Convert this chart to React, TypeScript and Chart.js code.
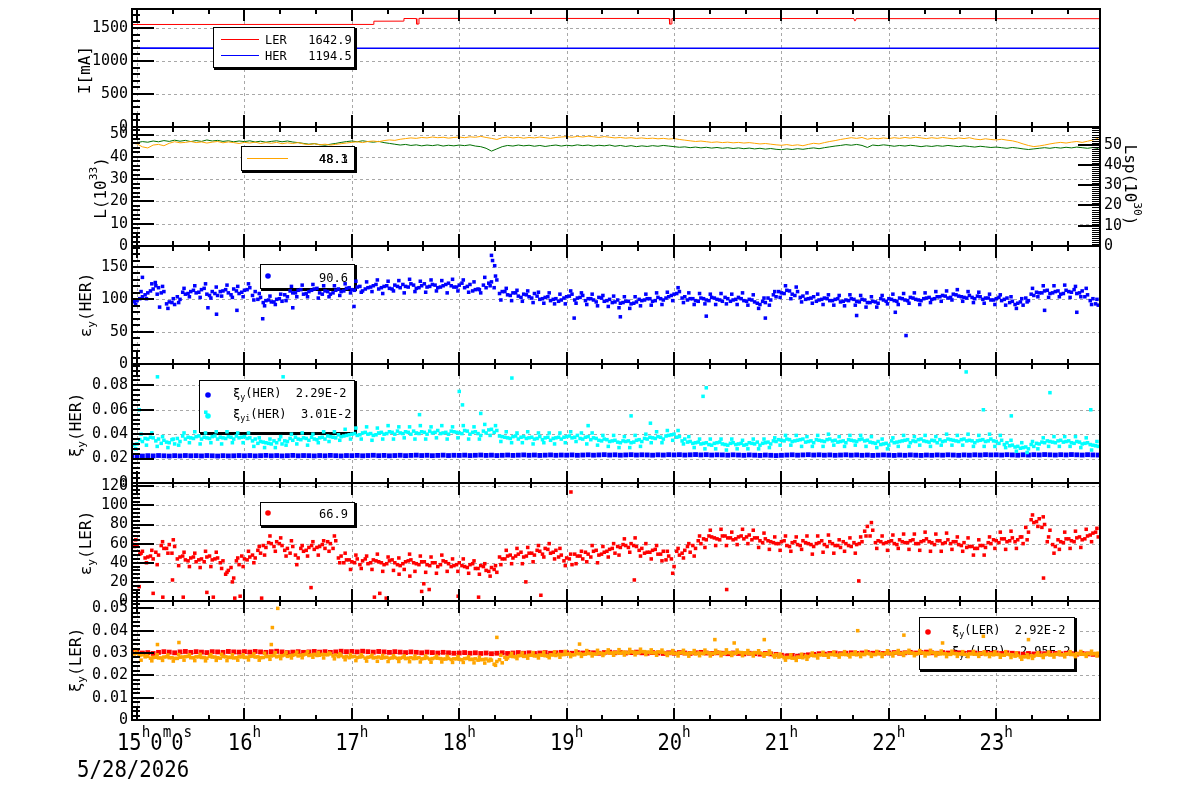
import React, { useEffect, useRef } from 'react';
import { Chart, registerables } from 'chart.js';
Chart.register(...registerables);

const W = 1200;
const H = 798;
const FONT = '"DejaVu Sans Mono", monospace';

// time axis (hours of day)
const X_MIN = 14.953;
const X_MAX = 23.966;
const T0 = 14.95; // first sample 14:57, 3-minute sampling
const DT = 0.05;
const hourTicks = [15, 16, 17, 18, 19, 20, 21, 22, 23];
const dateLabel = '5/28/2026';

// ---------- Panel 1: beam currents ----------
const tLER = [14.953, 17.2, 17.205, 17.48, 17.485, 17.6, 17.605, 17.62, 17.625, 19.955, 19.96, 19.975, 19.98, 21.675, 21.68, 21.69, 21.695, 23.966];
const vLER = [1555, 1556, 1605, 1606, 1646, 1645, 1560, 1562, 1648, 1646, 1560, 1562, 1646, 1645, 1612, 1614, 1644, 1643];
const tHER = [14.953, 17.0, 19.0, 21.0, 23.966];
const vHER = [1196, 1195, 1194, 1195, 1194.5];
const iTicks = [0, 500, 1000, 1500];

// ---------- Panel 2: luminosity ----------
const lumL = [
  46.2,
  45.8, 44.5, 44.0, 45.3, 45.6, 45.0, 46.1, 46.8, 46.3, 46.5, 46.9, 46.4, 46.7, 46.2, 46.6, 46.9, 46.3, 46.7, 46.4, 46.0,
  46.5, 46.2, 46.6, 46.0, 46.4, 46.1, 46.5, 45.9, 46.3, 46.0, 46.4, 45.8, 45.5, 45.9, 45.4, 45.7, 45.3, 45.6, 45.9, 46.2,
  46.5, 46.8, 46.4, 46.9, 47.1, 46.8, 47.3, 47.6, 47.4, 47.9, 48.2, 48.5, 48.3, 48.7, 48.5, 48.9, 48.6, 48.8, 48.4, 48.7,
  48.9, 48.6, 49.0, 48.8, 49.2, 48.7, 48.3, 47.8, 48.6, 48.9, 48.5, 48.8, 48.4, 48.7, 48.5, 48.9, 48.6, 48.3, 48.7, 48.9,
  49.1, 48.8, 49.2, 48.9, 49.3, 49.0, 48.7, 49.1, 48.8, 48.5, 48.7, 48.4, 48.6, 48.3, 48.5, 48.2, 48.4, 48.1, 48.3, 48.0,
  48.2, 47.8, 47.5, 47.2, 46.9, 47.1, 46.8, 46.5, 46.7, 46.4, 46.6, 46.3, 46.5, 46.2, 46.4, 46.1, 45.8, 46.0, 45.7, 45.4,
  45.2, 45.5, 45.1, 45.4, 45.0, 45.6, 46.1, 45.8, 46.4, 46.9, 47.3, 47.8, 48.2, 48.6, 48.3, 48.7, 47.9, 48.4, 48.1, 48.5,
  48.2, 48.6, 48.3, 48.7, 48.4, 48.8, 48.5, 48.2, 48.6, 48.3, 48.7, 48.4, 48.1, 48.5, 48.2, 48.6, 48.0, 47.7, 48.1, 47.8,
  47.6, 47.9, 47.5, 47.2, 46.6, 45.8, 45.1, 44.6, 44.9, 45.3, 45.8, 46.2, 46.5, 46.2, 46.6, 46.9, 46.5, 47.0, 47.6, 48.3,
];
const lumSp = [
  50.8,
  51.0, 51.5, 51.2, 51.8, 51.4, 52.0, 51.6, 52.2, 51.7, 52.1, 51.5, 52.0, 51.6, 52.3, 51.8, 52.1, 51.6, 51.9, 51.4, 51.8,
  51.5, 51.9, 51.3, 51.7, 51.2, 51.6, 51.9, 51.4, 51.8, 51.3, 51.0, 50.6, 50.2, 50.5, 50.0, 49.7, 50.2, 50.6, 51.1, 51.5,
  51.8, 51.4, 51.9, 51.5, 51.2, 51.6, 51.0, 50.6, 50.2, 49.8, 50.1, 49.6, 49.9, 49.4, 49.8, 49.5, 49.9, 49.3, 49.7, 49.4,
  49.8, 49.5, 49.9, 49.3, 49.0, 48.2, 46.8, 47.9, 49.0, 49.6, 49.3, 49.8, 49.4, 49.7, 49.2, 49.6, 49.1, 49.5, 49.8, 49.3,
  49.7, 49.4, 49.9, 49.5, 49.8, 49.3, 49.7, 49.4, 49.8, 49.2, 49.6, 49.1, 49.5, 49.0, 49.4, 49.1, 49.5, 49.2, 49.6, 49.3,
  49.0, 48.7, 48.9, 48.5, 48.8, 48.4, 48.7, 48.3, 48.6, 48.2, 48.5, 48.1, 48.4, 48.0, 48.3, 47.9, 48.2, 47.8, 48.1, 47.7,
  47.5, 47.9, 47.6, 48.0, 47.7, 48.1, 48.4, 48.0, 48.5, 48.9, 49.3, 49.6, 50.0, 49.7, 50.1, 49.6, 48.6, 49.8, 49.5, 49.9,
  49.6, 49.2, 49.6, 49.3, 49.7, 49.4, 49.0, 49.4, 49.1, 49.5, 49.2, 49.6, 49.3, 49.0, 49.4, 49.1, 48.8, 49.2, 48.9, 48.6,
  48.8, 48.5, 48.2, 48.6, 48.3, 47.9, 47.6, 47.9, 48.2, 48.5, 48.2, 48.6, 48.3, 48.7, 48.4, 48.8, 48.5, 48.2, 48.6, 48.1,
];
const lTicks = [0, 10, 20, 30, 40, 50];
const lspTicks = [0, 10, 20, 30, 40, 50];

// ---------- Panel 3: vertical emittance HER ----------
// A: 14:57 + 3 min steps; B: +1.5 min; C: +2.25 min
const herEmit = [
  95,
  98, 104, 110, 116, 118, 112, 96, 92, 100, 108, 112, 110, 115, 108, 112, 106, 113, 110, 116, 109,
  114, 118, 112, 103, 98, 96, 100, 97, 104, 110, 114, 108, 112, 116, 110, 113, 108, 114, 112, 117,
  115, 119, 113, 118, 121, 116, 120, 117, 122, 118, 120, 124, 117, 121, 119, 123, 118, 121, 125, 119,
  122, 118, 123, 115, 110, 118, 127, 130, 112, 107, 110, 105, 108, 104, 109, 100, 103, 98, 101, 99,
  104, 108, 102, 106, 101, 99, 103, 97, 100, 96, 94, 97, 93, 96, 98, 101, 97, 103, 99, 104,
  108, 112, 104, 101, 98, 102, 99, 103, 100, 97, 101, 99, 103, 98, 100, 96, 92, 95, 99, 104,
  110, 114, 108, 112, 105, 101, 104, 99, 102, 98, 100, 96, 99, 101, 97, 100, 95, 97, 94, 99,
  101, 98, 102, 99, 103, 100, 98, 102, 100, 104, 106, 102, 108, 105, 103, 106, 101, 104, 102, 99,
  101, 98, 102, 97, 94, 91, 98, 106, 110, 113, 109, 112, 108, 114, 111, 109, 113, 107, 101, 91,
];
const herEmitB = [
  97, 101, 107, 113, 121, 110, 93, 95, 104, 111, 109, 114, 111, 117, 106, 109, 112, 115, 107, 113,
  111, 115, 106, 100, 95, 99, 96, 101, 107, 113, 110, 115, 109, 114, 117, 108, 112, 110, 116, 113,
  118, 114, 120, 116, 119, 123, 118, 121, 116, 120, 123, 119, 122, 118, 124, 120, 122, 119, 123, 121,
  119, 125, 120, 113, 116, 122, 125, 118, 109, 112, 106, 110, 103, 107, 102, 105, 101, 104, 100, 97,
  102, 105, 99, 103, 98, 101, 96, 102, 98, 95, 99, 95, 97, 94, 100, 99, 101, 98, 101, 102,
  106, 109, 102, 99, 101, 97, 101, 98, 102, 99, 103, 97, 100, 101, 97, 99, 94, 97, 102, 107,
  112, 109, 113, 106, 103, 100, 102, 97, 100, 101, 98, 101, 97, 98, 100, 96, 99, 95, 96, 101,
  97, 100, 97, 101, 98, 102, 99, 101, 103, 101, 104, 105, 103, 107, 104, 102, 103, 105, 100, 102,
  99, 103, 100, 95, 92, 96, 102, 108, 111, 110, 114, 110, 113, 109, 112, 115, 110, 104, 98, 93,
];
const herEmitC = [
  92, 112, 101, 124, 108, 120, 86, 101, 95, 117, 104, 121, 103, 124, 102, 119, 105, 122, 103, 120,
  104, 124, 99, 109, 90, 105, 92, 108, 98, 120, 104, 122, 104, 123, 102, 121, 104, 121, 106, 124,
  110, 128, 111, 127, 112, 130, 109, 128, 113, 129, 110, 131, 112, 128, 111, 130, 113, 129, 110, 131,
  113, 130, 111, 127, 115, 134, 121, 136, 99, 117, 98, 114, 97, 113, 95, 111, 94, 110, 93, 108,
  93, 113, 94, 110, 92, 108, 90, 106, 89, 105, 87, 104, 86, 104, 90, 108, 91, 110, 92, 111,
  98, 118, 95, 110, 92, 109, 93, 108, 92, 109, 93, 108, 92, 110, 91, 107, 86, 102, 91, 112,
  103, 121, 101, 119, 96, 110, 94, 108, 92, 107, 91, 106, 90, 107, 91, 106, 88, 104, 88, 106,
  93, 108, 92, 109, 94, 110, 92, 110, 95, 112, 97, 113, 99, 115, 97, 112, 95, 111, 94, 108,
  92, 107, 91, 104, 86, 101, 96, 117, 104, 121, 103, 121, 104, 122, 103, 120, 104, 117, 92, 100,
];
const herEmitOutT = [15.05, 15.17, 15.21, 15.66, 15.74, 15.93, 16.17, 16.45, 17.02, 18.3, 18.31, 18.33, 19.07, 19.5, 20.3, 20.85, 21.7, 22.06, 22.16, 23.45, 23.75];
const herEmitOutV = [134, 126, 88, 87, 77, 83, 70, 87, 89, 168, 160, 152, 71, 73, 74, 71, 75, 80, 44, 83, 80];
const emHTicks = [0, 50, 100, 150];

// ---------- Panel 4: beam-beam parameter HER ----------
const herXi = [
  0.0222,
  0.0223, 0.0221, 0.0224, 0.0222, 0.0225, 0.0223, 0.0221, 0.0224, 0.0222, 0.0225, 0.0223, 0.0224, 0.0222, 0.0225, 0.0223, 0.0221, 0.0224, 0.0222, 0.0223, 0.0225,
  0.0223, 0.0225, 0.0222, 0.0224, 0.0226, 0.0223, 0.0225, 0.0222, 0.0224, 0.0226, 0.0223, 0.0225, 0.0224, 0.0222, 0.0225, 0.0223, 0.0226, 0.0224, 0.0222, 0.0225,
  0.0224, 0.0226, 0.0223, 0.0225, 0.0227, 0.0224, 0.0226, 0.0223, 0.0225, 0.0227, 0.0224, 0.0226, 0.0228, 0.0225, 0.0227, 0.0224, 0.0226, 0.0228, 0.0225, 0.0227,
  0.0226, 0.0228, 0.0225, 0.0227, 0.0229, 0.0226, 0.0228, 0.0225, 0.0227, 0.0229, 0.0226, 0.0228, 0.023, 0.0227, 0.0229, 0.0226, 0.0228, 0.023, 0.0227, 0.0229,
  0.0228, 0.023, 0.0227, 0.0229, 0.0231, 0.0228, 0.023, 0.0232, 0.0229, 0.0231, 0.0228, 0.023, 0.0232, 0.0229, 0.0231, 0.023, 0.0228, 0.0231, 0.0229, 0.0232,
  0.023, 0.0232, 0.0229, 0.0231, 0.0233, 0.023, 0.0232, 0.0229, 0.0231, 0.023, 0.0228, 0.0231, 0.0229, 0.0227, 0.023, 0.0228, 0.0226, 0.0229, 0.0227, 0.0225,
  0.0227, 0.0229, 0.0231, 0.0228, 0.023, 0.0232, 0.0229, 0.0231, 0.0228, 0.023, 0.0227, 0.0229, 0.0231, 0.0228, 0.023, 0.0227, 0.0229, 0.0226, 0.0228, 0.023,
  0.0228, 0.0226, 0.0229, 0.0227, 0.023, 0.0228, 0.0226, 0.0229, 0.0227, 0.023, 0.0228, 0.0231, 0.0229, 0.0227, 0.023, 0.0228, 0.0231, 0.0229, 0.0232, 0.023,
  0.0231, 0.0229, 0.0232, 0.023, 0.0228, 0.0231, 0.0229, 0.0232, 0.023, 0.0233, 0.0231, 0.0229, 0.0232, 0.023, 0.0233, 0.0231, 0.0229, 0.0232, 0.023, 0.0229,
];
const herXiI = [
  0.031,
  0.032, 0.034, 0.036, 0.037, 0.036, 0.035, 0.033, 0.032, 0.034, 0.036, 0.037, 0.038, 0.036, 0.037, 0.038, 0.036, 0.037, 0.038, 0.036, 0.037,
  0.038, 0.037, 0.036, 0.034, 0.033, 0.032, 0.033, 0.032, 0.034, 0.035, 0.036, 0.037, 0.035, 0.036, 0.037, 0.036, 0.038, 0.037, 0.038, 0.039,
  0.04, 0.039, 0.041, 0.04, 0.039, 0.041, 0.04, 0.042, 0.04, 0.041, 0.042, 0.04, 0.041, 0.042, 0.04, 0.041, 0.043, 0.041, 0.04, 0.042,
  0.041, 0.043, 0.04, 0.042, 0.039, 0.041, 0.044, 0.043, 0.038, 0.037, 0.038, 0.036, 0.038, 0.037, 0.036, 0.038, 0.037, 0.035, 0.037, 0.036,
  0.038, 0.037, 0.039, 0.036, 0.038, 0.037, 0.035, 0.036, 0.034, 0.035, 0.033, 0.034, 0.033, 0.035, 0.034, 0.036, 0.037, 0.038, 0.036, 0.039,
  0.04, 0.038, 0.036, 0.034, 0.033, 0.032, 0.033, 0.031, 0.033, 0.032, 0.031, 0.033, 0.032, 0.031, 0.033, 0.032, 0.031, 0.033, 0.032, 0.034,
  0.035, 0.036, 0.034, 0.035, 0.036, 0.034, 0.033, 0.035, 0.034, 0.036, 0.035, 0.034, 0.033, 0.035, 0.034, 0.036, 0.035, 0.033, 0.034, 0.032,
  0.031, 0.033, 0.034, 0.035, 0.033, 0.034, 0.036, 0.034, 0.035, 0.033, 0.034, 0.036, 0.035, 0.034, 0.036, 0.035, 0.033, 0.035, 0.034, 0.036,
  0.034, 0.035, 0.033, 0.031, 0.03, 0.029, 0.028, 0.03, 0.032, 0.033, 0.034, 0.033, 0.035, 0.034, 0.033, 0.034, 0.032, 0.033, 0.031, 0.03,
];
const herXiIB = [
  0.0315, 0.0355, 0.0365, 0.0375, 0.0345, 0.0325, 0.0335, 0.0355, 0.0365, 0.0385, 0.0375, 0.0365, 0.0385, 0.0375, 0.0365, 0.0385, 0.0375, 0.0365, 0.0375, 0.0385,
  0.0375, 0.0365, 0.0345, 0.0325, 0.0335, 0.0325, 0.0345, 0.0355, 0.0345, 0.0365, 0.0375, 0.0355, 0.0365, 0.0375, 0.0355, 0.0375, 0.0385, 0.0375, 0.0395, 0.0385,
  0.0395, 0.0405, 0.0395, 0.0415, 0.0405, 0.0395, 0.0415, 0.0405, 0.0415, 0.0425, 0.0405, 0.0415, 0.0425, 0.0405, 0.0415, 0.0425, 0.0415, 0.0405, 0.0415, 0.0425,
  0.0415, 0.0405, 0.0425, 0.0415, 0.0405, 0.0425, 0.0435, 0.0415, 0.0385, 0.0375, 0.0365, 0.0385, 0.0375, 0.0365, 0.0375, 0.0365, 0.0355, 0.0375, 0.0365, 0.0375,
  0.0375, 0.0385, 0.0375, 0.0365, 0.0375, 0.0355, 0.0365, 0.0345, 0.0355, 0.0345, 0.0335, 0.0345, 0.0345, 0.0335, 0.0355, 0.0365, 0.0375, 0.0365, 0.0375, 0.0385,
  0.0395, 0.0375, 0.0345, 0.0335, 0.0325, 0.0335, 0.0325, 0.0315, 0.0325, 0.0335, 0.0315, 0.0325, 0.0315, 0.0325, 0.0315, 0.0325, 0.0335, 0.0325, 0.0335, 0.0345,
  0.0355, 0.0345, 0.0355, 0.0345, 0.0355, 0.0335, 0.0345, 0.0355, 0.0345, 0.0355, 0.0345, 0.0335, 0.0345, 0.0355, 0.0345, 0.0355, 0.0345, 0.0335, 0.0325, 0.0315,
  0.0325, 0.0345, 0.0335, 0.0345, 0.0355, 0.0345, 0.0355, 0.0345, 0.0335, 0.0345, 0.0355, 0.0345, 0.0355, 0.0345, 0.0355, 0.0345, 0.0345, 0.0345, 0.0355, 0.0345,
  0.0345, 0.0325, 0.0315, 0.0305, 0.0295, 0.0285, 0.0295, 0.0315, 0.0325, 0.0335, 0.0345, 0.0335, 0.0345, 0.0335, 0.0345, 0.0325, 0.0335, 0.0325, 0.0315, 0.0305,
];
const herXiIC = [
  0.028, 0.04, 0.031, 0.041, 0.03, 0.038, 0.029, 0.036, 0.031, 0.041, 0.033, 0.042, 0.032, 0.041, 0.033, 0.042, 0.032, 0.042, 0.033, 0.041,
  0.033, 0.041, 0.03, 0.037, 0.029, 0.036, 0.029, 0.038, 0.031, 0.04, 0.032, 0.041, 0.031, 0.04, 0.033, 0.042, 0.034, 0.042, 0.035, 0.044,
  0.036, 0.045, 0.036, 0.046, 0.035, 0.045, 0.036, 0.047, 0.036, 0.046, 0.037, 0.046, 0.036, 0.047, 0.036, 0.046, 0.037, 0.047, 0.036, 0.046,
  0.037, 0.047, 0.036, 0.046, 0.036, 0.048, 0.039, 0.047, 0.034, 0.042, 0.033, 0.041, 0.033, 0.042, 0.032, 0.041, 0.033, 0.041, 0.032, 0.041,
  0.033, 0.042, 0.034, 0.041, 0.032, 0.041, 0.031, 0.039, 0.03, 0.039, 0.029, 0.038, 0.029, 0.039, 0.03, 0.04, 0.033, 0.042, 0.033, 0.043,
  0.035, 0.043, 0.032, 0.038, 0.029, 0.036, 0.028, 0.036, 0.028, 0.036, 0.027, 0.036, 0.028, 0.035, 0.028, 0.036, 0.028, 0.036, 0.029, 0.037,
  0.031, 0.039, 0.031, 0.039, 0.03, 0.038, 0.03, 0.039, 0.03, 0.04, 0.031, 0.038, 0.03, 0.039, 0.031, 0.039, 0.03, 0.038, 0.029, 0.036,
  0.028, 0.037, 0.03, 0.039, 0.03, 0.038, 0.031, 0.039, 0.03, 0.038, 0.031, 0.04, 0.031, 0.039, 0.031, 0.04, 0.03, 0.039, 0.03, 0.04,
  0.03, 0.039, 0.029, 0.035, 0.026, 0.033, 0.025, 0.034, 0.028, 0.037, 0.03, 0.038, 0.03, 0.038, 0.03, 0.038, 0.029, 0.037, 0.027, 0.034,
];
const herXiIOutT = [15.02, 15.19, 15.64, 16.36, 17.63, 18.0, 18.03, 18.2, 18.49, 19.2, 19.6, 19.78, 20.27, 20.3, 22.72, 22.88, 23.14, 23.5, 23.88];
const herXiIOutV = [0.06, 0.087, 0.058, 0.087, 0.056, 0.075, 0.064, 0.057, 0.086, 0.047, 0.055, 0.049, 0.071, 0.078, 0.091, 0.06, 0.055, 0.074, 0.06];
const xiHTicks = [0, 0.02, 0.04, 0.06, 0.08];
const xiHLabels = ['0', '0.02', '0.04', '0.06', '0.08'];

// ---------- Panel 5: vertical emittance LER ----------
const lerEmit = [
  60,
  58, 52, 46, 44, 48, 55, 59, 57, 46, 43, 45, 41, 44, 46, 43, 45, 42, 32, 24, 38,
  44, 46, 45, 50, 56, 60, 62, 58, 55, 57, 45, 52, 56, 54, 57, 55, 60, 63, 47, 43,
  41, 44, 42, 39, 43, 41, 38, 42, 40, 37, 41, 43, 39, 41, 38, 40, 36, 42, 39, 37,
  40, 36, 38, 34, 37, 32, 35, 30, 44, 47, 45, 49, 46, 50, 48, 52, 55, 50, 53, 48,
  45, 38, 47, 44, 49, 52, 48, 51, 54, 50, 56, 58, 60, 57, 55, 51, 53, 49, 52, 47,
  36, 48, 53, 51, 55, 60, 64, 67, 65, 68, 66, 64, 67, 65, 69, 66, 63, 65, 62, 60,
  62, 58, 61, 59, 63, 60, 57, 61, 59, 62, 58, 56, 60, 57, 59, 62, 78, 74, 63, 60,
  62, 60, 64, 61, 63, 60, 62, 65, 61, 63, 60, 64, 62, 59, 61, 57, 55, 58, 56, 60,
  63, 65, 62, 66, 64, 60, 72, 82, 86, 80, 74, 57, 62, 65, 63, 66, 64, 68, 71, 67,
];
const lerEmitB = [
  57, 49, 45, 47, 51, 58, 55, 50, 44, 47, 42, 46, 43, 41, 47, 44, 40, 28, 35, 42,
  47, 43, 48, 53, 58, 61, 57, 60, 53, 50, 48, 55, 53, 58, 56, 59, 62, 55, 45, 40,
  43, 40, 38, 44, 40, 42, 40, 39, 43, 38, 39, 42, 40, 38, 41, 37, 40, 38, 41, 36,
  38, 37, 35, 39, 34, 36, 31, 33, 46, 44, 48, 47, 51, 47, 50, 53, 49, 54, 51, 46,
  42, 44, 49, 47, 51, 46, 53, 49, 52, 55, 57, 59, 56, 58, 53, 50, 51, 54, 49, 43,
  44, 52, 50, 57, 58, 63, 65, 68, 66, 64, 68, 66, 65, 68, 67, 64, 66, 61, 63, 61,
  60, 63, 57, 62, 58, 61, 59, 60, 63, 57, 60, 58, 62, 58, 61, 60, 73, 68, 61, 62,
  61, 63, 59, 62, 61, 64, 60, 63, 62, 59, 63, 61, 60, 62, 58, 56, 57, 55, 58, 61,
  64, 61, 65, 63, 62, 67, 77, 85, 83, 77, 62, 59, 64, 61, 65, 62, 67, 65, 69, 72,
];
const lerEmitC = [
  64, 50, 40, 53, 38, 62, 50, 64, 37, 51, 36, 50, 35, 52, 36, 51, 34, 30, 20, 45,
  36, 52, 40, 57, 48, 68, 52, 66, 47, 63, 38, 58, 47, 62, 48, 63, 52, 68, 40, 50,
  33, 48, 34, 47, 33, 49, 31, 46, 32, 45, 33, 49, 31, 47, 30, 46, 29, 48, 31, 44,
  31, 44, 29, 42, 28, 39, 26, 37, 38, 53, 39, 55, 39, 56, 41, 58, 46, 60, 44, 55,
  37, 49, 39, 52, 41, 58, 40, 57, 46, 60, 48, 65, 51, 66, 47, 60, 44, 58, 42, 52,
  29, 55, 45, 60, 47, 68, 56, 74, 58, 75, 58, 72, 59, 75, 60, 74, 56, 71, 54, 67,
  53, 68, 52, 67, 54, 68, 49, 68, 51, 69, 50, 64, 52, 66, 50, 67, 68, 82, 55, 68,
  53, 69, 55, 70, 54, 70, 53, 72, 52, 70, 52, 71, 54, 67, 52, 66, 48, 64, 48, 67,
  55, 72, 54, 73, 55, 67, 64, 90, 78, 88, 67, 50, 54, 72, 55, 73, 56, 75, 62, 76,
];
const lerEmitOutT = [15.02, 15.15, 15.24, 15.33, 15.43, 15.65, 15.71, 15.91, 15.96, 16.16, 16.62, 17.21, 17.26, 17.32, 17.44, 17.54, 17.65, 17.67, 17.72, 17.99, 18.18, 18.62, 18.76, 19.04, 19.63, 20.49, 21.72, 23.44];
const lerEmitOutV = [15, 8, 4, 22, 4, 9, 4, 3, 5, 3, 14, 4, 8, 3, 28, 26, 10, 18, 12, 5, 4, 20, 6, 114, 22, 12, 21, 24];
const emLTicks = [0, 20, 40, 60, 80, 100, 120];

// ---------- Panel 6: beam-beam parameter LER ----------
const lerXi = [
  0.031,
  0.0305, 0.03, 0.0302, 0.0298, 0.0303, 0.0306, 0.0304, 0.0301, 0.0305, 0.0307, 0.0303, 0.0306, 0.0304, 0.0302, 0.0306, 0.0305, 0.0303, 0.0307, 0.0305, 0.0304,
  0.0306, 0.0304, 0.0307, 0.0305, 0.0303, 0.0306, 0.0308, 0.0305, 0.0302, 0.0304, 0.0306, 0.0303, 0.0305, 0.0307, 0.0304, 0.0306, 0.0303, 0.0305, 0.0308, 0.0306,
  0.0307, 0.0305, 0.0308, 0.0306, 0.0304, 0.0307, 0.0305, 0.0303, 0.0306, 0.0304, 0.0302, 0.0305, 0.0303, 0.0301, 0.0304, 0.0302, 0.03, 0.0303, 0.0301, 0.0299,
  0.03, 0.0302, 0.0299, 0.0301, 0.0298, 0.03, 0.0297, 0.0299, 0.0301, 0.0298, 0.03, 0.0302, 0.0299, 0.0301, 0.0298, 0.03, 0.0302, 0.0299, 0.0301, 0.0303,
  0.0301, 0.0299, 0.0302, 0.03, 0.0303, 0.0301, 0.0299, 0.0302, 0.0304, 0.0301, 0.0303, 0.03, 0.0302, 0.0304, 0.0301, 0.0299, 0.0302, 0.03, 0.0298, 0.0301,
  0.0299, 0.0302, 0.03, 0.0298, 0.0301, 0.0303, 0.03, 0.0298, 0.0301, 0.0299, 0.0297, 0.03, 0.0298, 0.0296, 0.0299, 0.0297, 0.0295, 0.0298, 0.0296, 0.0294,
  0.029, 0.0287, 0.0289, 0.0286, 0.029, 0.0292, 0.0294, 0.0297, 0.0295, 0.0298, 0.03, 0.0297, 0.0299, 0.0301, 0.0298, 0.03, 0.0302, 0.0299, 0.0301, 0.0298,
  0.03, 0.0302, 0.0299, 0.0301, 0.0303, 0.03, 0.0302, 0.0304, 0.0301, 0.0299, 0.0302, 0.03, 0.0303, 0.0301, 0.0299, 0.0302, 0.03, 0.0298, 0.0301, 0.0299,
  0.03, 0.0298, 0.0301, 0.0299, 0.0297, 0.0295, 0.0298, 0.0296, 0.0299, 0.0297, 0.03, 0.0298, 0.0296, 0.0299, 0.0297, 0.0295, 0.0298, 0.0296, 0.0294, 0.0292,
];
const lerXiI = [
  0.0305,
  0.03, 0.0292, 0.0285, 0.028, 0.0278, 0.0282, 0.0279, 0.0276, 0.0281, 0.0284, 0.0279, 0.0283, 0.028, 0.0277, 0.0282, 0.0279, 0.0284, 0.0281, 0.0278, 0.0283,
  0.028, 0.0285, 0.0282, 0.0279, 0.0284, 0.0287, 0.0283, 0.0288, 0.0285, 0.029, 0.0287, 0.0292, 0.0289, 0.0294, 0.029, 0.0293, 0.0296, 0.0291, 0.0288, 0.0285,
  0.0283, 0.028, 0.0284, 0.0281, 0.0278, 0.0282, 0.0279, 0.0276, 0.028, 0.0277, 0.0275, 0.0279, 0.0276, 0.0274, 0.0278, 0.0275, 0.0277, 0.0273, 0.0276, 0.0274,
  0.0272, 0.0275, 0.0271, 0.0274, 0.027, 0.0273, 0.0268, 0.0262, 0.0256, 0.0278, 0.0284, 0.0288, 0.0285, 0.029, 0.0287, 0.0291, 0.0288, 0.0292, 0.0289, 0.0293,
  0.0295, 0.0292, 0.0297, 0.0294, 0.0298, 0.0296, 0.0299, 0.0297, 0.03, 0.0302, 0.0299, 0.0303, 0.0305, 0.0302, 0.0306, 0.0304, 0.0301, 0.0305, 0.0303, 0.03,
  0.0298, 0.0301, 0.0297, 0.03, 0.0296, 0.0299, 0.0302, 0.0298, 0.0301, 0.0299, 0.0302, 0.03, 0.0303, 0.0301, 0.0298, 0.0302, 0.03, 0.0297, 0.0299, 0.0293,
  0.0285, 0.028, 0.0277, 0.0282, 0.0279, 0.0284, 0.0288, 0.0292, 0.029, 0.0294, 0.0291, 0.0295, 0.0293, 0.0296, 0.0292, 0.0295, 0.0298, 0.0294, 0.0297, 0.0295,
  0.0298, 0.0301, 0.0298, 0.0302, 0.03, 0.0297, 0.0301, 0.0299, 0.0302, 0.03, 0.0297, 0.0295, 0.0298, 0.0296, 0.0294, 0.0297, 0.0295, 0.0298, 0.0293, 0.0296,
  0.0294, 0.0291, 0.0295, 0.0292, 0.0289, 0.0284, 0.028, 0.0286, 0.029, 0.0293, 0.0291, 0.0295, 0.0293, 0.0296, 0.0294, 0.0297, 0.0295, 0.0298, 0.0296, 0.0299,
];
const lerXiIB = [
  0.0296, 0.0289, 0.0283, 0.0277, 0.0281, 0.0278, 0.0283, 0.0279, 0.0276, 0.0282, 0.0285, 0.0279, 0.0283, 0.028, 0.0285, 0.0282, 0.0277, 0.0283, 0.028, 0.0279,
  0.0283, 0.0281, 0.0286, 0.0283, 0.028, 0.0285, 0.0289, 0.0286, 0.0291, 0.0288, 0.0293, 0.029, 0.0295, 0.0291, 0.0289, 0.0294, 0.0292, 0.0287, 0.0284, 0.0282,
  0.0279, 0.0285, 0.0282, 0.0277, 0.0283, 0.028, 0.0277, 0.0281, 0.0278, 0.0276, 0.028, 0.0277, 0.0275, 0.0279, 0.0276, 0.0273, 0.0278, 0.0275, 0.0273, 0.0271,
  0.0274, 0.027, 0.0276, 0.0272, 0.0268, 0.0271, 0.0265, 0.025, 0.027, 0.0281, 0.0286, 0.0283, 0.0289, 0.0286, 0.029, 0.0287, 0.029, 0.0286, 0.0291, 0.0294,
  0.0293, 0.0296, 0.0292, 0.0297, 0.0295, 0.0298, 0.0295, 0.0299, 0.0303, 0.03, 0.0301, 0.0304, 0.03, 0.0304, 0.0302, 0.0306, 0.0303, 0.0301, 0.0304, 0.0299,
  0.03, 0.0298, 0.0302, 0.0298, 0.0301, 0.03, 0.0297, 0.03, 0.0298, 0.0303, 0.0299, 0.0301, 0.0299, 0.0302, 0.03, 0.0298, 0.0301, 0.0296, 0.0295, 0.0288,
  0.0282, 0.0279, 0.028, 0.0277, 0.0281, 0.0286, 0.029, 0.0288, 0.0292, 0.029, 0.0293, 0.029, 0.0294, 0.0291, 0.0294, 0.0296, 0.0293, 0.0296, 0.0293, 0.0297,
  0.03, 0.0297, 0.03, 0.0298, 0.0302, 0.0299, 0.0298, 0.03, 0.0298, 0.0301, 0.0296, 0.0297, 0.0294, 0.0297, 0.0296, 0.0293, 0.0296, 0.0294, 0.0297, 0.0295,
  0.0292, 0.0294, 0.029, 0.0293, 0.0286, 0.0282, 0.0283, 0.0288, 0.0291, 0.0289, 0.0294, 0.0292, 0.0294, 0.0292, 0.0296, 0.0293, 0.0296, 0.0294, 0.0297, 0.0298,
];
const lerXiIC = [
  0.0315, 0.0268, 0.0295, 0.0265, 0.0292, 0.0267, 0.0291, 0.0264, 0.0293, 0.0268, 0.0292, 0.0266, 0.0294, 0.0265, 0.0293, 0.0267, 0.0294, 0.0266, 0.0292, 0.0268,
  0.0292, 0.0269, 0.0296, 0.0268, 0.0299, 0.0272, 0.0301, 0.0275, 0.0303, 0.0278, 0.0304, 0.0279, 0.0306, 0.0281, 0.0302, 0.0278, 0.03, 0.0274, 0.0296, 0.027,
  0.0293, 0.0266, 0.0292, 0.0264, 0.029, 0.0263, 0.0289, 0.0262, 0.0288, 0.0262, 0.0287, 0.0261, 0.0286, 0.026, 0.0287, 0.0259, 0.0286, 0.026, 0.0285, 0.0258,
  0.0284, 0.0258, 0.0283, 0.0256, 0.0281, 0.0255, 0.0272, 0.0245, 0.029, 0.0272, 0.0298, 0.0275, 0.03, 0.0277, 0.0302, 0.0278, 0.0303, 0.0279, 0.0305, 0.0281,
  0.0307, 0.0284, 0.0309, 0.0285, 0.0311, 0.0287, 0.0312, 0.0289, 0.0314, 0.029, 0.0315, 0.0291, 0.0316, 0.0292, 0.0317, 0.0293, 0.0314, 0.029, 0.0313, 0.0289,
  0.0311, 0.0287, 0.0312, 0.0286, 0.0311, 0.0288, 0.0313, 0.0287, 0.0312, 0.0288, 0.0314, 0.0289, 0.0313, 0.0288, 0.0311, 0.0287, 0.031, 0.0286, 0.0309, 0.0282,
  0.0295, 0.0268, 0.0292, 0.0267, 0.0294, 0.0272, 0.03, 0.0278, 0.0303, 0.0281, 0.0304, 0.0282, 0.0306, 0.0283, 0.0305, 0.0284, 0.0308, 0.0285, 0.0307, 0.0284,
  0.031, 0.0287, 0.0311, 0.0289, 0.0312, 0.0288, 0.0311, 0.0287, 0.0312, 0.0288, 0.0309, 0.0284, 0.0308, 0.0285, 0.0306, 0.0284, 0.0307, 0.0285, 0.0305, 0.0284,
  0.0305, 0.0281, 0.0306, 0.028, 0.03, 0.0272, 0.0292, 0.0276, 0.0301, 0.028, 0.0304, 0.0282, 0.0305, 0.0283, 0.0306, 0.0284, 0.0307, 0.0285, 0.0308, 0.0287,
];
const lerXiIOutT = [15.19, 15.39, 16.25, 16.26, 16.31, 18.35, 19.12, 20.38, 20.56, 20.84, 21.71, 22.14, 22.5, 22.88, 23.3];
const lerXiIOutV = [0.0338, 0.0347, 0.0338, 0.0414, 0.05, 0.037, 0.034, 0.036, 0.0345, 0.036, 0.04, 0.038, 0.0345, 0.0375, 0.036];
const xiLTicks = [0, 0.01, 0.02, 0.03, 0.04, 0.05];
const xiLLabels = ['0', '0.01', '0.02', '0.03', '0.04', '0.05'];

// legend texts (last values)
const legCurLER = 'LER   1642.9';
const legCurHER = 'HER   1194.5';
const legLumSp = '48.1';
const legLumL = '48.3';
const legEmH = '90.6';
const legXiH = '(HER)  2.29E-2';
const legXiHI = '(HER)  3.01E-2';
const legEmL = '66.9';
const legXiL = '(LER)  2.92E-2';
const legXiLI = '(LER)  2.95E-2';

// ---------- helpers ----------
type Part = { t: string; s?: number };

const onGrid = (vals: number[], offset = 0) => vals.map((v, i) => ({ x: T0 + offset + i * DT, y: v }));
const pairs = (ts: number[], vs: number[]) => ts.map((t, i) => ({ x: t, y: vs[i] }));

const scatterDs = (data: any[], color: string, radius = 2.5, yAxisID = 'y') => ({
  data, showLine: false, pointStyle: 'rect', pointRadius: radius, pointBorderWidth: 0, borderWidth: 0,
  backgroundColor: color, borderColor: color, yAxisID,
});
const lineDs = (data: any[], color: string, width = 1, yAxisID = 'y') => ({
  data, showLine: true, pointRadius: 0, borderWidth: width, borderColor: color, backgroundColor: color, tension: 0, yAxisID,
});

function drawRich(ctx: CanvasRenderingContext2D, parts: Part[], x: number, y: number, size: number,
  opt: { rot?: number; align?: string; sx?: number; color?: string } = {}) {
  const sx = opt.sx ?? 1;
  ctx.save();
  ctx.translate(x, y);
  if (opt.rot) ctx.rotate(opt.rot);
  ctx.textBaseline = 'alphabetic';
  ctx.textAlign = 'left';
  ctx.fillStyle = opt.color ?? '#000';
  const widths = parts.map((p) => {
    ctx.font = `${p.s ? size * 0.7 : size}px ${FONT}`;
    return ctx.measureText(p.t).width * sx;
  });
  const total = widths.reduce((a, b) => a + b, 0);
  let cx = opt.align === 'center' ? -total / 2 : opt.align === 'right' ? -total : 0;
  parts.forEach((p, i) => {
    ctx.font = `${p.s ? size * 0.7 : size}px ${FONT}`;
    const dy = p.s === 1 ? -size * 0.56 : p.s === -1 ? size * 0.25 : 0;
    ctx.save();
    ctx.translate(cx, dy);
    ctx.scale(sx, 1);
    ctx.fillText(p.t, 0, 0);
    ctx.restore();
    cx += widths[i];
  });
  ctx.restore();
}

type LegendEntry = { kind: 'line' | 'dot'; color: string; mx: number; mx2?: number; my: number; text: Part[]; tx: number; ty: number; align: string };
type LegendSpec = { box: number[]; onTop: boolean; entries: LegendEntry[] };

function drawLegend(ctx: CanvasRenderingContext2D, lg: LegendSpec) {
  const [x1, y1, x2, y2] = lg.box;
  ctx.save();
  ctx.fillStyle = '#000';
  ctx.fillRect(x1 + 1, y1 + 1, x2 - x1 + 1, y2 - y1 + 1);
  ctx.fillStyle = '#fff';
  ctx.fillRect(x1, y1, x2 - x1, y2 - y1);
  ctx.strokeStyle = '#000';
  ctx.lineWidth = 1;
  ctx.strokeRect(x1 + 0.5, y1 + 0.5, x2 - x1 - 1, y2 - y1 - 1);
  for (const e of lg.entries) {
    if (e.kind === 'line') {
      ctx.strokeStyle = e.color;
      ctx.lineWidth = 1;
      ctx.beginPath();
      ctx.moveTo(e.mx, e.my + 0.5);
      ctx.lineTo(e.mx2 as number, e.my + 0.5);
      ctx.stroke();
    } else {
      ctx.fillStyle = e.color;
      ctx.beginPath();
      ctx.arc(e.mx, e.my, 2.8, 0, Math.PI * 2);
      ctx.fill();
    }
    drawRich(ctx, e.text, e.tx, e.ty, 12, { align: e.align });
  }
  ctx.restore();
}

type AxisSpec = { max: number; ticks: number[]; labels: string[]; major: number; minor: number; minorWidth: number };
type PanelSpec = {
  top: number; bottom: number;
  left: AxisSpec; right?: AxisSpec;
  title: Part[]; titleX: number; titleY: number;
  rightTitle?: Part[]; rightTitleX?: number; rightTitleY?: number;
  datasets: any[];
  legend: LegendSpec;
  xLabels?: boolean;
};

function drawYAxis(ctx: CanvasRenderingContext2D, scale: any, x0: number, dir: number, ax: AxisSpec) {
  const n = Math.floor(ax.max / ax.minor + 1e-6);
  for (const majorPass of [false, true]) {
    ctx.beginPath();
    ctx.lineWidth = majorPass ? 2 : ax.minorWidth;
    for (let k = 0; k <= n; k++) {
      const v = k * ax.minor;
      const r = v / ax.major;
      const isMajor = Math.abs(r - Math.round(r)) < 1e-6;
      if (isMajor !== majorPass) continue;
      const y = Math.round(scale.getPixelForValue(v)) + (ctx.lineWidth === 1 ? 0.5 : 0);
      ctx.moveTo(x0, y);
      ctx.lineTo(x0 + dir * (isMajor ? 22 : 8), y);
    }
    ctx.stroke();
  }
  ctx.font = `15px ${FONT}`;
  ctx.fillStyle = '#000';
  ctx.textBaseline = 'middle';
  ctx.textAlign = dir > 0 ? 'right' : 'left';
  ax.ticks.forEach((v, i) => {
    const y = scale.getPixelForValue(v);
    ctx.fillText(ax.labels[i], x0 - dir * 4, y);
  });
}

function panelPlugin(p: PanelSpec) {
  return {
    id: 'rootPanel',
    beforeDatasetsDraw(chart: any) {
      const { ctx, chartArea: a, scales } = chart;
      const xs = scales.x;
      const ys = scales.y;
      ctx.save();
      ctx.strokeStyle = '#a8a8a8';
      ctx.lineWidth = 1;
      ctx.setLineDash([3, 3]);
      ctx.beginPath();
      for (const h of hourTicks) {
        const x = Math.round(xs.getPixelForValue(h)) + 0.5;
        ctx.moveTo(x, a.top);
        ctx.lineTo(x, a.bottom);
      }
      for (const v of p.left.ticks) {
        if (v <= 0) continue;
        const y = Math.round(ys.getPixelForValue(v)) + 0.5;
        ctx.moveTo(a.left, y);
        ctx.lineTo(a.right, y);
      }
      ctx.stroke();
      ctx.restore();
      if (!p.legend.onTop) drawLegend(ctx, p.legend);
    },
    afterDatasetsDraw(chart: any) {
      const { ctx, chartArea: a, scales } = chart;
      const xs = scales.x;
      if (p.legend.onTop) drawLegend(ctx, p.legend);
      ctx.save();
      ctx.setLineDash([]);
      ctx.strokeStyle = '#000';
      ctx.lineWidth = 2;
      // x ticks (major each hour, minor each 20 min) on bottom and top
      ctx.beginPath();
      for (let k = 0; ; k++) {
        const v = 15 + k / 3;
        if (v > X_MAX) break;
        const x = Math.round(xs.getPixelForValue(v));
        const len = k % 3 === 0 ? 12 : 5;
        ctx.moveTo(x, a.bottom);
        ctx.lineTo(x, a.bottom - len);
        ctx.moveTo(x, a.top);
        ctx.lineTo(x, a.top + len);
      }
      ctx.stroke();
      drawYAxis(ctx, scales.y, a.left, 1, p.left);
      if (p.right) drawYAxis(ctx, scales.y2, a.right, -1, p.right);
      ctx.lineWidth = 2;
      ctx.strokeRect(a.left, a.top, a.right - a.left, a.bottom - a.top);
      ctx.restore();
      drawRich(ctx, p.title, p.titleX, p.titleY, 16, { rot: -Math.PI / 2, align: 'center' });
      if (p.rightTitle) drawRich(ctx, p.rightTitle, p.rightTitleX as number, p.rightTitleY as number, 16, { rot: Math.PI / 2, align: 'center' });
      if (p.xLabels) {
        for (const h of hourTicks) {
          const x = xs.getPixelForValue(h);
          if (h === 15) {
            drawRich(ctx, [{ t: '15' }, { t: 'h', s: 1 }, { t: '0' }, { t: 'm', s: 1 }, { t: '0' }, { t: 's', s: 1 }], x - 20, 750, 23, { sx: 0.89 });
          } else {
            drawRich(ctx, [{ t: String(h) }, { t: 'h', s: 1 }], x, 750, 23, { align: 'center', sx: 0.89 });
          }
        }
        drawRich(ctx, [{ t: dateLabel }], 77, 777, 23, { sx: 0.9 });
      }
    },
  };
}

const BANDS = [9, 127, 246, 364, 483, 601, 720];
const RED = '#ff0000';
const BLUE = '#0000ff';
const CYAN = '#00ffff';
const ORANGE = '#ffa500';
const GREEN = '#007000';

const PANELS: PanelSpec[] = [
  {
    top: BANDS[0], bottom: BANDS[1],
    left: { max: 1790, ticks: iTicks, labels: iTicks.map(String), major: 500, minor: 100, minorWidth: 2 },
    title: [{ t: 'I[mA]' }], titleX: 90, titleY: 70,
    datasets: [lineDs(pairs(tLER, vLER), RED, 1), lineDs(pairs(tHER, vHER), BLUE, 1.6)],
    legend: {
      box: [213, 27, 355, 68], onTop: true,
      entries: [
        { kind: 'line', color: RED, mx: 221, mx2: 259, my: 39, text: [{ t: legCurLER }], tx: 265, ty: 44, align: 'left' },
        { kind: 'line', color: BLUE, mx: 221, mx2: 259, my: 55, text: [{ t: legCurHER }], tx: 265, ty: 60, align: 'left' },
      ],
    },
  },
  {
    top: BANDS[1], bottom: BANDS[2],
    left: { max: 53.4, ticks: lTicks, labels: lTicks.map(String), major: 10, minor: 2, minorWidth: 2 },
    right: { max: 58.7, ticks: lspTicks, labels: lspTicks.map(String), major: 10, minor: 1, minorWidth: 1 },
    title: [{ t: 'L(10' }, { t: '33', s: 1 }, { t: ')' }], titleX: 106, titleY: 188,
    rightTitle: [{ t: 'Lsp(10' }, { t: '30', s: 1 }, { t: ')' }], rightTitleX: 1125, rightTitleY: 185,
    datasets: [lineDs(onGrid(lumL), ORANGE, 1), lineDs(onGrid(lumSp), GREEN, 1, 'y2')],
    legend: {
      box: [241, 146, 355, 171], onTop: true,
      entries: [
        { kind: 'line', color: GREEN, mx: 247, mx2: 288, my: 158, text: [{ t: legLumSp }], tx: 348, ty: 163, align: 'right' },
        { kind: 'line', color: ORANGE, mx: 247, mx2: 288, my: 158, text: [{ t: legLumL }], tx: 348, ty: 163, align: 'right' },
      ],
    },
  },
  {
    top: BANDS[2], bottom: BANDS[3],
    left: { max: 182.5, ticks: emHTicks, labels: emHTicks.map(String), major: 50, minor: 10, minorWidth: 2 },
    title: [{ t: 'ε' }, { t: 'y', s: -1 }, { t: '(HER)' }], titleX: 91, titleY: 305,
    datasets: [scatterDs([
      ...onGrid(herEmit), ...onGrid(herEmitB, DT / 2), ...onGrid(herEmitC, DT * 0.75),
      ...pairs(herEmitOutT, herEmitOutV),
    ], BLUE)],
    legend: {
      box: [260, 264, 355, 289], onTop: false,
      entries: [{ kind: 'dot', color: BLUE, mx: 268, my: 276, text: [{ t: legEmH }], tx: 348, ty: 282, align: 'right' }],
    },
  },
  {
    top: BANDS[3], bottom: BANDS[4],
    left: { max: 0.0975, ticks: xiHTicks, labels: xiHLabels, major: 0.02, minor: 0.004, minorWidth: 2 },
    title: [{ t: 'ξ' }, { t: 'y', s: -1 }, { t: '(HER)' }], titleX: 81, titleY: 425,
    datasets: [
      scatterDs([
        ...onGrid(herXiI), ...onGrid(herXiIB, DT / 2), ...onGrid(herXiIC, DT * 0.75),
        ...pairs(herXiIOutT, herXiIOutV),
      ], CYAN),
      scatterDs(onGrid(herXi), BLUE, 3.4),
    ],
    legend: {
      box: [199, 380, 355, 433], onTop: false,
      entries: [
        { kind: 'dot', color: BLUE, mx: 208, my: 395, text: [{ t: 'ξ' }, { t: 'y', s: -1 }, { t: legXiH }], tx: 233, ty: 397, align: 'left' },
        { kind: 'dot', color: CYAN, mx: 208, my: 416, text: [{ t: 'ξ' }, { t: 'yi', s: -1 }, { t: legXiHI }], tx: 233, ty: 418, align: 'left' },
      ],
    },
  },
  {
    top: BANDS[4], bottom: BANDS[5],
    left: { max: 123.4, ticks: emLTicks, labels: emLTicks.map(String), major: 20, minor: 4, minorWidth: 2 },
    title: [{ t: 'ε' }, { t: 'y', s: -1 }, { t: '(LER)' }], titleX: 91, titleY: 543,
    datasets: [scatterDs([
      ...onGrid(lerEmit), ...onGrid(lerEmitB, DT / 2), ...onGrid(lerEmitC, DT * 0.75),
      ...pairs(lerEmitOutT, lerEmitOutV),
    ], RED)],
    legend: {
      box: [260, 502, 355, 526], onTop: false,
      entries: [{ kind: 'dot', color: RED, mx: 268, my: 513, text: [{ t: legEmL }], tx: 348, ty: 518, align: 'right' }],
    },
  },
  {
    top: BANDS[5], bottom: BANDS[6],
    left: { max: 0.0533, ticks: xiLTicks, labels: xiLLabels, major: 0.01, minor: 0.002, minorWidth: 2 },
    title: [{ t: 'ξ' }, { t: 'y', s: -1 }, { t: '(LER)' }], titleX: 81, titleY: 660,
    datasets: [
      scatterDs([
        ...onGrid(lerXiI), ...onGrid(lerXiIB, DT / 2), ...onGrid(lerXiIC, DT * 0.75),
        ...pairs(lerXiIOutT, lerXiIOutV),
      ], ORANGE),
      scatterDs(onGrid(lerXi), RED, 3.4),
    ],
    legend: {
      box: [919, 617, 1075, 670], onTop: false,
      entries: [
        { kind: 'dot', color: RED, mx: 928, my: 632, text: [{ t: 'ξ' }, { t: 'y', s: -1 }, { t: legXiL }], tx: 952, ty: 634, align: 'left' },
        { kind: 'dot', color: ORANGE, mx: 928, my: 653, text: [{ t: 'ξ' }, { t: 'yi', s: -1 }, { t: legXiLI }], tx: 952, ty: 655, align: 'left' },
      ],
    },
    xLabels: true,
  },
];

function buildConfig(p: PanelSpec): any {
  const scales: any = {
    x: { type: 'linear', min: X_MIN, max: X_MAX, display: false },
    y: { type: 'linear', min: 0, max: p.left.max, display: false },
  };
  if (p.right) scales.y2 = { type: 'linear', position: 'right', min: 0, max: p.right.max, display: false };
  return {
    type: 'scatter',
    data: { datasets: p.datasets },
    options: {
      responsive: false,
      maintainAspectRatio: false,
      animation: false,
      devicePixelRatio: 1,
      events: [],
      layout: { padding: { left: 132, right: W - 1100, top: p.top, bottom: H - p.bottom } },
      scales,
      plugins: { legend: { display: false }, tooltip: { enabled: false } },
    },
    plugins: [panelPlugin(p)],
  };
}

export default function App() {
  const refs = useRef<(HTMLCanvasElement | null)[]>([]);
  useEffect(() => {
    const charts = PANELS.map((p, i) => new Chart(refs.current[i] as HTMLCanvasElement, buildConfig(p)));
    return () => charts.forEach((c) => c.destroy());
  }, []);
  return (
    <div style={{ position: 'fixed', left: 0, top: 0, width: W, height: H, background: '#fff', overflow: 'hidden' }}>
      {PANELS.map((_, i) => (
        <canvas
          key={i}
          ref={(el) => { refs.current[i] = el; }}
          width={W}
          height={H}
          style={{ position: 'absolute', left: 0, top: 0, width: W, height: H }}
        />
      ))}
    </div>
  );
}
